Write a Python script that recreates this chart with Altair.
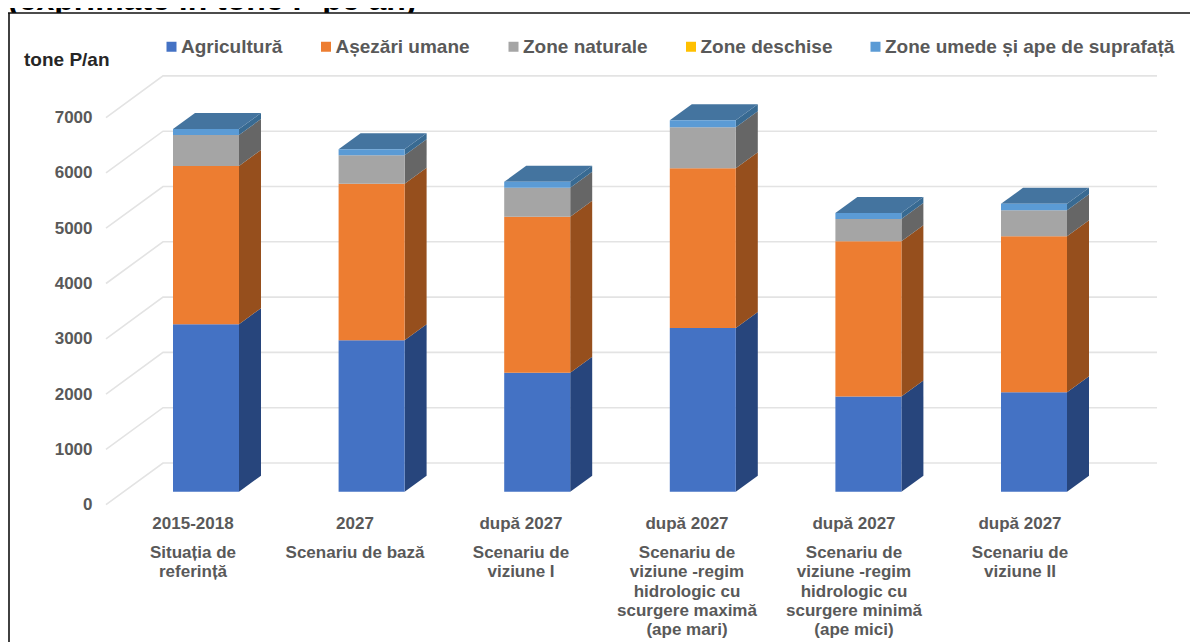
import altair as alt
import pandas as pd

FONT = "Liberation Sans"
years = ["2015-2018", "2027", "după 2027", "după 2027", "după 2027", "după 2027"]
scenarios = [
    "Situația de\nreferință",
    "Scenariu de bază",
    "Scenariu de\nviziune I",
    "Scenariu de\nviziune -regim\nhidrologic cu\nscurgere maximă\n(ape mari)",
    "Scenariu de\nviziune -regim\nhidrologic cu\nscurgere minimă\n(ape mici)",
    "Scenariu de\nviziune II",
]
series_names = ["Agricultură", "Așezări umane", "Zone naturale", "Zone deschise",
                "Zone umede și ape de suprafață"]
agri = [3030, 2740, 2150, 2960, 1720, 1800]
human = [2860, 2830, 2820, 2890, 2810, 2820]
natural = [560, 515, 525, 740, 400, 470]
open_land = [0, 0, 0, 0, 0, 0]
wet = [108, 109, 108, 127, 109, 116]
series_values = [agri, human, natural, open_land, wet]
front_colors = ["#4472C4", "#ED7D31", "#A5A5A5", "#FFC000", "#5B9BD5"]
side_colors = ["#27457C", "#964F1D", "#666666", "#9A7400", "#386A92"]
top_color = "#44749F"
ticks = [0, 1000, 2000, 3000, 4000, 5000, 6000, 7000]

# scale set-up: page pixels -> data units
PX_X = 165.6
PX_Y = 55.3 / 1000
W, H = 1182, 634
x0_page, y0_page = 206.0, 504.7
x_dom = [(8 - x0_page) / PX_X, (8 + W - x0_page) / PX_X]
y_dom = [(y0_page - (8 + H)) / PX_Y, (y0_page - 8) / PX_Y]
half = 33 / PX_X
dx = 22 / PX_X
dy = 16 / PX_Y
base = (y0_page - 491.7) / PX_Y
wall_dx = 57 / PX_X
wall_dy = 41.7 / PX_Y
right_end = (1157 - x0_page) / PX_X
front_x = (106 - x0_page) / PX_X

front, side, top, grid = [], [], [], []
for i in range(6):
    cum = base
    for s, name in enumerate(series_names):
        lo, hi = cum, cum + series_values[s][i]
        cum = hi
        L, R = i - half, i + half
        front.append(dict(series=name, L=L, R=R, lo=lo, hi=hi))
        side.append(dict(series=name, face=f"{i}-{s}", x=R, lo=lo, hi=hi))
        side.append(dict(series=name, face=f"{i}-{s}", x=R + dx, lo=lo + dy, hi=hi + dy))
    top += [dict(face=i, x=i - half, lo=cum, hi=cum),
            dict(face=i, x=i - half + dx, lo=cum, hi=cum + dy),
            dict(face=i, x=i + half, lo=cum, hi=cum + dy),
            dict(face=i, x=i + half + dx, lo=cum + dy, hi=cum + dy)]
for t in ticks:
    grid += [dict(t=t, x=front_x, y=t),
             dict(t=t, x=front_x + wall_dx, y=t + wall_dy),
             dict(t=t, x=right_end, y=t + wall_dy)]

front_df, side_df, top_df, grid_df = map(pd.DataFrame, (front, side, top, grid))

xs = alt.Scale(domain=x_dom, nice=False, zero=False)
ys = alt.Scale(domain=y_dom, nice=False, zero=False)
X = alt.X("x:Q", scale=xs, axis=None)
AX = alt.Axis(
    values=ticks, format="d", grid=False, domain=False, ticks=False, offset=-84, labelPadding=0,
    labelFont=FONT, labelFontSize=17, labelFontWeight="bold", labelColor="#595959",
    title="tone P/an", titleAngle=0, titleAlign="left", titleBaseline="middle",
    titleX=-68.5, titleY=51, titleFont=FONT, titleFontSize=19,
    titleFontWeight="bold", titleColor="#262626")


def Y(field, **kw):
    return alt.Y(field, scale=ys, axis=AX, **kw)


grid_layer = alt.Chart(grid_df).mark_line(color="#E3E3E3", strokeWidth=1.6).encode(
    x=X, y=Y("y:Q"), detail="t:N", order="x:Q")

side_layers = [
    alt.Chart(side_df[side_df.series == name]).mark_area(color=col, opacity=1).encode(
        x=X, y=Y("lo:Q", stack=None), y2="hi:Q", detail="face:N")
    for name, col in zip(series_names, side_colors)
]

top_layer = alt.Chart(top_df).mark_area(color=top_color, opacity=1).encode(
    x=X, y=Y("lo:Q", stack=None), y2="hi:Q", detail="face:N")

front_layer = alt.Chart(front_df).mark_rect().encode(
    x=alt.X("L:Q", scale=xs, axis=None), x2="R:Q",
    y=Y("lo:Q"), y2="hi:Q",
    color=alt.Color("series:N", sort=series_names,
                    scale=alt.Scale(domain=series_names, range=front_colors),
                    legend=alt.Legend(
                        title=None, orient="none", legendX=154, legendY=29,
                        direction="horizontal", columns=5, columnPadding=33.5,
                        symbolType="square", symbolSize=100, labelOffset=0,
                        labelFont=FONT, labelFontSize=19, labelFontWeight="bold",
                        labelColor="#595959", labelLimit=400)),
)

# category labels (two blocks under each bar)
label_page_x = [193, 355, 521, 687, 854, 1020]
label_x = [(p - x0_page) / PX_X for p in label_page_x]
year_y = (y0_page - 524) / PX_Y
scen_y = (y0_page - 553) / PX_Y
lab_df = pd.DataFrame(dict(x=label_x, year=years, scen=scenarios,
                           yy=[year_y] * 6, sy=[scen_y] * 6))
year_layer = alt.Chart(lab_df).mark_text(
    font=FONT, fontSize=17, fontWeight="bold", color="#595959", baseline="middle"
).encode(x=X, y=Y("yy:Q"), text="year:N")
scen_layer = alt.Chart(lab_df).mark_text(
    font=FONT, fontSize=17, fontWeight="bold", color="#595959", baseline="middle",
    lineBreak="\n", lineHeight=19.3
).encode(x=X, y=Y("sy:Q"), text="scen:N")

one = pd.DataFrame({"a": [0], "txt": ["(exprimate în tone P pe an)"]})
frame_top = alt.Chart(one).mark_rule(color="#111111", strokeWidth=1.6).encode(
    x=alt.value(0), x2=alt.value(W), y=alt.value(5))
frame_left = alt.Chart(one).mark_rule(color="#111111", strokeWidth=1.6).encode(
    x=alt.value(1), y=alt.value(5), y2=alt.value(H))
title_layer = alt.Chart(one).mark_text(
    font=FONT, fontSize=32, fontWeight="bold", color="#000000", align="left", baseline="alphabetic"
).encode(x=alt.value(0), y=alt.value(2), text="txt:N")
title_mask = alt.Chart(one).mark_rect(color="white").encode(
    x=alt.value(2), x2=alt.value(440), y=alt.value(5), y2=alt.value(16))

chart = alt.layer(
    grid_layer, *side_layers, top_layer, front_layer,
    year_layer, scen_layer, title_layer, title_mask, frame_top, frame_left
).properties(
    width=W, height=H, padding=0, background="white",
    autosize=alt.AutoSizeParams(type="none"),
).configure_view(stroke=None)

chart.save("out.html", embed_options={"renderer": "svg", "actions": False})
